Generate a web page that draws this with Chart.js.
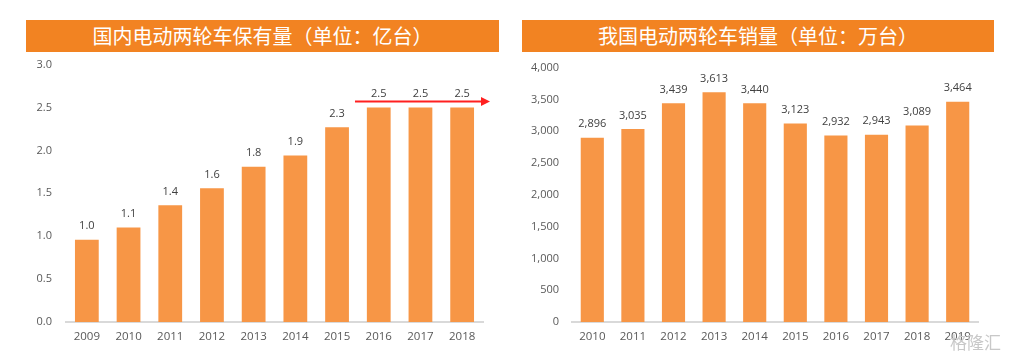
<!DOCTYPE html>
<html>
<head>
<meta charset="utf-8">
<script src="https://cdn.jsdelivr.net/npm/chart.js@4"></script>
<style>
  body { margin: 0; background: #fff; width: 1019px; height: 358px; overflow: hidden; position: relative; font-family: "Noto Sans CJK SC", sans-serif; }
  .title-bar { position: absolute; top: 20px; height: 32px; background: #F28322; color: #fff; font-size: 20px; line-height: 32px; text-align: center; }
  .box { position: absolute; }
  .mark { position: absolute; left: 950px; top: 329px; color: #c8c8c8; font-size: 17px; }
</style>
</head>
<body>
<div class="title-bar" style="left:26px;width:473px;">国内电动两轮车保有量（单位：亿台）</div>
<div class="title-bar" style="left:522px;width:472px;">我国电动两轮车销量（单位：万台）</div>
<div class="box" style="left:0;top:44px;width:500px;height:312px;"><canvas id="c1"></canvas></div>
<div class="box" style="left:510px;top:48px;width:490px;height:308px;"><canvas id="c2"></canvas></div>
<div class="mark">格隆汇</div>
<script>
// 保有量（亿台）
const yearsStock = ['2009', '2010', '2011', '2012', '2013', '2014', '2015', '2016', '2017', '2018'];
const stockValues = [0.96, 1.1, 1.36, 1.56, 1.81, 1.94, 2.27, 2.5, 2.5, 2.5];
const stockTicks = { min: 0, max: 3, step: 0.5 };
// arrow over the flat years
const arrowFrom = '2016';
const arrowLevel = 2.57;

// 销量（万台）
const yearsSales = ['2010', '2011', '2012', '2013', '2014', '2015', '2016', '2017', '2018', '2019'];
const salesValues = [2896, 3035, 3439, 3613, 3440, 3123, 2932, 2943, 3089, 3464];
const salesTicks = { min: 0, max: 4000, step: 500 };

const BAR = '#F79646';
const TXT = '#595959';
const FONT = '"Open Sans", "Noto Sans", sans-serif';

const valueLabels = {
  id: 'valueLabels',
  afterDatasetsDraw(chart, args, opts) {
    const ctx = chart.ctx;
    const meta = chart.getDatasetMeta(0);
    ctx.save();
    ctx.fillStyle = '#404040';
    ctx.font = '11px ' + FONT;
    ctx.textAlign = 'center';
    ctx.textBaseline = 'bottom';
    meta.data.forEach((bar, i) => {
      const v = chart.data.datasets[0].data[i];
      ctx.fillText(opts.format(v), bar.x, bar.y - 8);
    });
    ctx.restore();
  }
};

const arrowLine = {
  id: 'arrowLine',
  afterDatasetsDraw(chart, args, opts) {
    if (!opts.from) return;
    const x = chart.scales.x, y = chart.scales.y;
    const idx = chart.data.labels.indexOf(opts.from);
    const step = x.getPixelForValue(1) - x.getPixelForValue(0);
    const x0 = x.getPixelForValue(idx) - step * 0.57;
    const x1 = chart.chartArea.right + 7;
    const yy = y.getPixelForValue(opts.level);
    const ctx = chart.ctx;
    ctx.save();
    ctx.strokeStyle = '#FF2020';
    ctx.fillStyle = '#FF2020';
    ctx.lineWidth = 2;
    ctx.beginPath();
    ctx.moveTo(x0, yy);
    ctx.lineTo(x1 - 8, yy);
    ctx.stroke();
    ctx.beginPath();
    ctx.moveTo(x1, yy);
    ctx.lineTo(x1 - 9, yy - 4.5);
    ctx.lineTo(x1 - 9, yy + 4.5);
    ctx.closePath();
    ctx.fill();
    ctx.restore();
  }
};

function makeChart(id, labels, values, ticks, cfg) {
  return new Chart(document.getElementById(id), {
    type: 'bar',
    data: {
      labels,
      datasets: [{
        data: values,
        backgroundColor: BAR,
        borderWidth: 0,
        categoryPercentage: 1,
        barPercentage: 0.57
      }]
    },
    options: {
      responsive: true,
      maintainAspectRatio: false,
      animation: false,
      layout: { padding: { top: cfg.top, right: cfg.right, left: 0, bottom: 0 } },
      scales: {
        x: {
          grid: { display: false, drawTicks: false },
          border: { color: '#D9D9D9', width: 2 },
          ticks: { color: TXT, font: { family: FONT, size: 11.5 }, padding: 8, maxRotation: 0 },
          afterFit(s) { s.height = 34; }
        },
        y: {
          min: ticks.min,
          max: ticks.max,
          grid: { display: false, drawTicks: false },
          border: { display: false },
          ticks: {
            stepSize: ticks.step,
            color: TXT,
            font: { family: FONT, size: 11 },
            padding: cfg.yPad,
            callback: cfg.tickFmt
          },
          afterFit(s) { s.width = cfg.yWidth; }
        }
      },
      plugins: {
        legend: { display: false },
        tooltip: { enabled: false },
        valueLabels: { format: cfg.labelFmt },
        arrowLine: cfg.arrow || {}
      }
    },
    plugins: [valueLabels, arrowLine]
  });
}

makeChart('c1', yearsStock, stockValues, stockTicks, {
  top: 8, right: 17, yWidth: 66, yPad: 14,
  tickFmt: v => v.toFixed(1),
  labelFmt: v => v.toFixed(1),
  arrow: { from: arrowFrom, level: arrowLevel }
});

makeChart('c2', yearsSales, salesValues, salesTicks, {
  top: 11, right: 22, yWidth: 62, yPad: 13,
  tickFmt: v => v.toLocaleString('en-US'),
  labelFmt: v => v.toLocaleString('en-US')
});
</script>
</body>
</html>
